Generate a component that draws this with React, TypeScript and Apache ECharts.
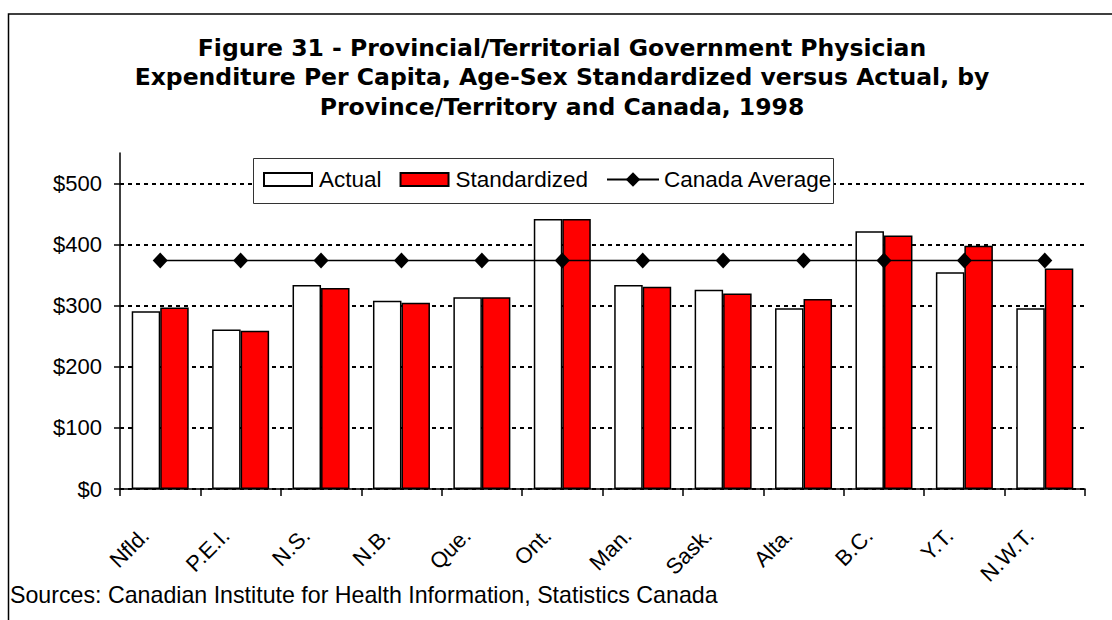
import React, { useEffect, useRef } from "react";
import * as echarts from "echarts";

const categories = ["Nfld.", "P.E.I.", "N.S.", "N.B.", "Que.", "Ont.", "Man.", "Sask.", "Alta.", "B.C.", "Y.T.", "N.W.T."];
const actual = [291, 261, 334, 308, 314, 442, 334, 326, 296, 422, 355, 296];
const standardized = [297, 259, 329, 305, 314, 442, 331, 320, 311, 415, 398, 361];
const canadaAverage = [374, 374, 374, 374, 374, 374, 374, 374, 374, 374, 374, 374];
const yTicks = [0, 100, 200, 300, 400, 500];

const titleText =
  "Figure 31 - Provincial/Territorial Government Physician\nExpenditure Per Capita, Age-Sex Standardized versus Actual, by\nProvince/Territory and Canada, 1998";
const sourceText = "Sources: Canadian Institute for Health Information, Statistics Canada";

const FONT = "'Liberation Sans', Arial, sans-serif";
const TITLE_FONT = "'DejaVu Sans', Verdana, sans-serif";

export default function App() {
  const ref = useRef<HTMLDivElement>(null);
  useEffect(() => {
    if (!ref.current) return;
    const chart = echarts.init(ref.current, null, { renderer: "svg" });
    chart.setOption({
      animation: false,
      backgroundColor: "#fff",
      textStyle: { fontFamily: FONT, color: "#000" },
      title: {
        text: titleText,
        left: 557,
        top: 28,
        textAlign: "center",
        textStyle: { fontFamily: TITLE_FONT, fontWeight: "bold", fontSize: 23.5, lineHeight: 29.5, color: "#000" },
      },
      legend: [
        {
          left: 263,
          top: 168,
          padding: 0,
          itemWidth: 48,
          itemHeight: 13,
          itemGap: 18,
          z: 10,
          textStyle: { fontFamily: FONT, fontSize: 22.5, color: "#000", padding: [0, 0, 0, 2] },
          data: [
            { name: "Actual", icon: "rect" },
            { name: "Standardized", icon: "rect" },
          ],
        },
        {
          left: 606,
          top: 168,
          padding: 0,
          itemWidth: 52,
          itemHeight: 18,
          z: 10,
          textStyle: { fontFamily: FONT, fontSize: 22.5, color: "#000", padding: [0, 0, 0, 0] },
          data: ["Canada Average"],
        },
      ],
      grid: { left: 120, right: 27, top: 153, bottom: 131, containLabel: false },
      xAxis: {
        type: "category",
        data: categories,
        boundaryGap: true,
        axisLine: { lineStyle: { color: "#000", width: 1.5 } },
        axisTick: { show: true, length: 7, alignWithLabel: false, lineStyle: { color: "#000", width: 1.5 } },
        axisLabel: {
          rotate: 45,
          interval: 0,
          margin: 28,
          padding: [0, 21, 0, 0],
          fontFamily: FONT,
          fontSize: 22,
          color: "#000",
        },
      },
      yAxis: {
        type: "value",
        min: 0,
        max: 550,
        interval: 100,
        axisLine: { show: true, lineStyle: { color: "#000", width: 1.5 } },
        axisTick: { show: true, length: 6, lineStyle: { color: "#000", width: 1.5 } },
        axisLabel: {
          margin: 18,
          fontFamily: FONT,
          fontSize: 22,
          color: "#000",
          showMaxLabel: false,
          formatter: (v: number) => (yTicks.indexOf(v) >= 0 ? "$" + v : ""),
        },
        splitLine: {
          show: true,
          showMaxLine: false,
          lineStyle: { color: "#000", width: 2, type: [4, 4] },
        },
      },
      series: [
        {
          name: "Actual",
          type: "bar",
          data: actual,
          barWidth: 28.5,
          barGap: "0%",
          itemStyle: { color: "#fff", borderColor: "#000", borderWidth: 1.5 },
          z: 2,
        },
        {
          name: "Standardized",
          type: "bar",
          data: standardized,
          barWidth: 28.5,
          barGap: "0%",
          itemStyle: { color: "#ff0000", borderColor: "#000", borderWidth: 1.5 },
          z: 2,
        },
        {
          name: "Canada Average",
          type: "line",
          data: canadaAverage,
          symbol: "diamond",
          symbolSize: [15, 16],
          lineStyle: { color: "#000", width: 1.5 },
          itemStyle: { color: "#000" },
          z: 5,
        },
      ],
      graphic: [
        {
          type: "rect",
          shape: { x: 253.5, y: 158.5, width: 580, height: 45 },
          style: { fill: "#fff", stroke: "#333", lineWidth: 1 },
          silent: true,
          z: 3,
        },
        {
          type: "rect",
          shape: { x: 8.5, y: 14, width: 1300, height: 800 },
          style: { fill: "none", stroke: "#000", lineWidth: 1.5 },
          silent: true,
          z: 100,
        },
        {
          type: "text",
          x: 10,
          y: 595,
          style: {
            text: sourceText,
            fontFamily: FONT,
            fontSize: 23.2,
            fill: "#000",
            verticalAlign: "middle",
          },
        },
      ],
    });
    return () => chart.dispose();
  }, []);
  return <div ref={ref} style={{ position: "fixed", left: 0, top: 0, width: 1112, height: 620 }} />;
}
